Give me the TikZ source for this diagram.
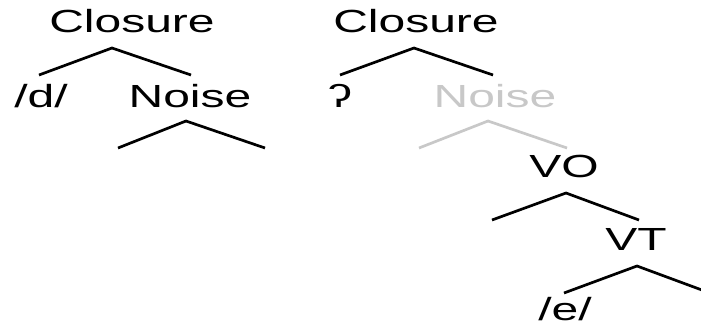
\documentclass[tikz,border=0pt]{standalone}
\usepackage{fontspec}
\setmainfont{Liberation Sans}
\definecolor{lightg}{RGB}{200,200,200}
\begin{document}
\begin{tikzpicture}[x=1pt,y=-1pt,
  lbl/.style={anchor=base,inner sep=0pt,font=\fontsize{32}{36}\selectfont,xscale=1.5,transform shape},
  br/.style={line width=2.7pt},
  gbr/.style={line width=2.7pt,draw=lightg}]
\useasboundingbox (0,0) rectangle (701,322);
\clip (0,0) rectangle (701,322);
% left tree
\node[lbl] (cl1) at (132,32) {Closure};
\node[lbl] (d) at (41,107) {/d/};
\node[lbl] (n1) at (190,107) {Noise};
\coordinate (a1) at (112,48); \coordinate (a1l) at (39,75); \coordinate (a1r) at (191,75);
\draw[br] (a1l) -- (a1) -- (a1r);
\coordinate (a2) at (186,121); \coordinate (a2l) at (118,148); \coordinate (a2r) at (265,148);
\draw[br] (a2l) -- (a2) -- (a2r);
% right tree
\node[lbl] (cl2) at (416,32) {Closure};
\node[lbl] (q) at (340,107) {ʔ};
\node[lbl,text=lightg] (n2) at (495,107) {Noise};
\node[lbl] (vo) at (564,177) {VO};
\node[lbl] (vt) at (636,250) {VT};
\node[lbl] (e) at (565,320) {/e/};
\coordinate (b1) at (414,48); \coordinate (b1l) at (340,75); \coordinate (b1r) at (493,75);
\draw[br] (b1l) -- (b1) -- (b1r);
\coordinate (b2) at (488,121); \coordinate (b2l) at (419,148); \coordinate (b2r) at (567,148);
\draw[gbr] (b2l) -- (b2) -- (b2r);
\coordinate (b3) at (566,193); \coordinate (b3l) at (492,220); \coordinate (b3r) at (639,220);
\draw[br] (b3l) -- (b3) -- (b3r);
\coordinate (b4) at (637,266); \coordinate (b4l) at (564,293); \coordinate (b4r) at (710,293);
\draw[br] (b4l) -- (b4) -- (b4r);
\end{tikzpicture}
\end{document}
